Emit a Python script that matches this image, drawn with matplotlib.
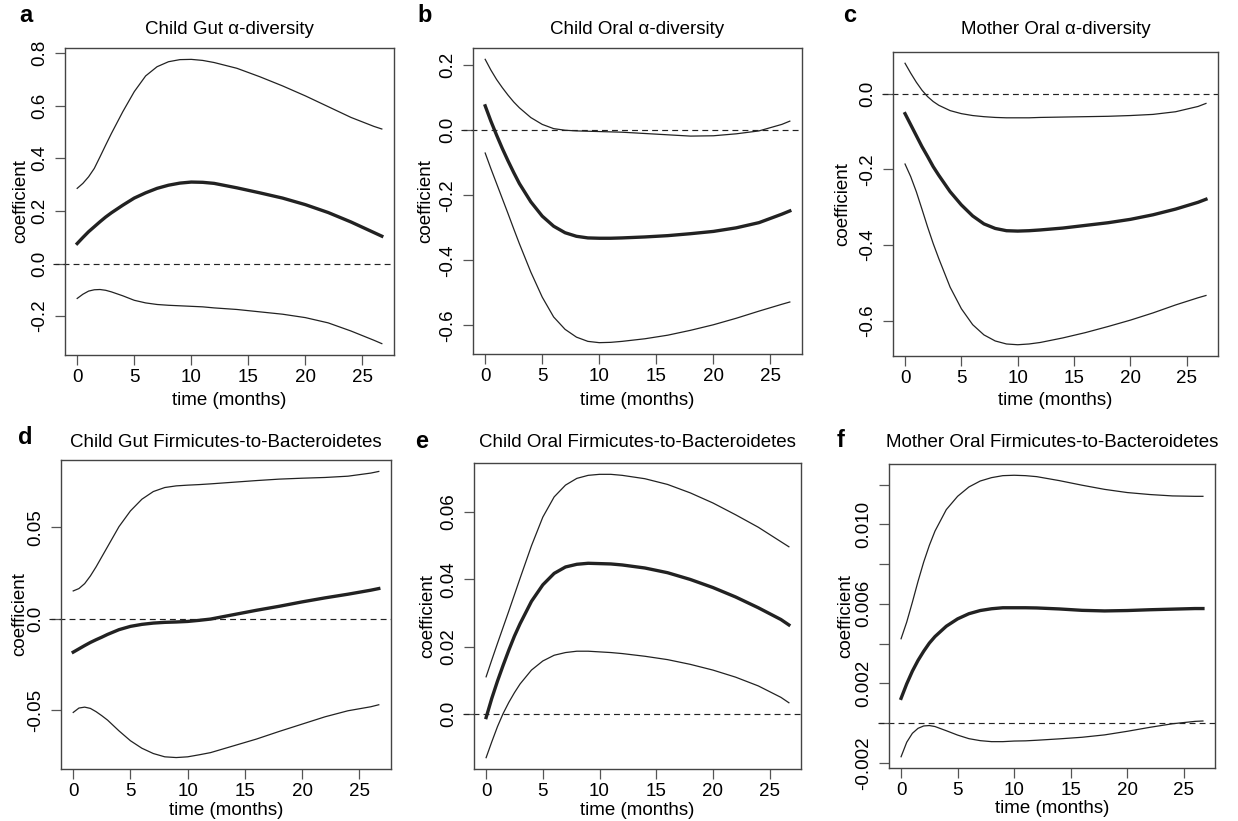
import matplotlib
matplotlib.use("Agg")
import matplotlib.pyplot as plt
import matplotlib.transforms as mtransforms

plt.rcParams['font.family'] = ['Liberation Sans', 'DejaVu Sans']

# ---------------- data ----------------
time_months = [0, 0.5, 1, 1.5, 2, 2.5, 3, 4, 5, 6, 7, 8, 9, 10, 11, 12,
               14, 16, 18, 20, 22, 24, 26, 26.7]

titles = ["Child Gut \u03b1-diversity", "Child Oral \u03b1-diversity",
          "Mother Oral \u03b1-diversity",
          "Child Gut Firmicutes-to-Bacteroidetes",
          "Child Oral Firmicutes-to-Bacteroidetes",
          "Mother Oral Firmicutes-to-Bacteroidetes"]
panel_letters = ["a", "b", "c", "d", "e", "f"]

# panel a
a_upper = [0.286, 0.305, 0.330, 0.362, 0.406, 0.451, 0.495, 0.578, 0.654, 0.714, 0.749, 0.768,
           0.776, 0.777, 0.773, 0.765, 0.743, 0.711, 0.676, 0.638, 0.597, 0.556, 0.522, 0.512]
a_coef = [0.076, 0.099, 0.121, 0.140, 0.159, 0.177, 0.193, 0.222, 0.249, 0.269, 0.286, 0.298,
          0.306, 0.310, 0.309, 0.305, 0.288, 0.269, 0.249, 0.224, 0.194, 0.158, 0.118, 0.104]
a_lower = [-0.133, -0.117, -0.105, -0.100, -0.099, -0.102, -0.108, -0.123, -0.140, -0.150, -0.156,
           -0.159, -0.161, -0.163, -0.165, -0.169, -0.175, -0.184, -0.193, -0.206, -0.226, -0.257,
           -0.292, -0.305]

# panel b
b_upper = [0.218, 0.185, 0.156, 0.131, 0.108, 0.087, 0.069, 0.039, 0.018, 0.005, 0.000, -0.002,
           -0.003, -0.004, -0.005, -0.006, -0.010, -0.014, -0.018, -0.017, -0.011, -0.002, 0.018, 0.028]
b_coef = [0.075, 0.028, -0.015, -0.056, -0.094, -0.130, -0.164, -0.220, -0.264, -0.295, -0.315,
          -0.326, -0.331, -0.332, -0.332, -0.331, -0.328, -0.324, -0.318, -0.311, -0.300, -0.284,
          -0.258, -0.248]
b_lower = [-0.070, -0.118, -0.164, -0.210, -0.256, -0.303, -0.349, -0.436, -0.513, -0.574, -0.612,
           -0.636, -0.649, -0.653, -0.652, -0.649, -0.641, -0.630, -0.615, -0.598, -0.578, -0.556,
           -0.535, -0.528]

# panel c
c_upper = [0.080, 0.054, 0.030, 0.009, -0.008, -0.021, -0.031, -0.045, -0.053, -0.058, -0.061,
           -0.063, -0.064, -0.064, -0.064, -0.063, -0.062, -0.061, -0.060, -0.058, -0.055, -0.048,
           -0.034, -0.026]
c_coef = [-0.053, -0.082, -0.111, -0.140, -0.166, -0.193, -0.216, -0.259, -0.294, -0.323, -0.344,
          -0.356, -0.362, -0.363, -0.362, -0.360, -0.355, -0.348, -0.341, -0.332, -0.320, -0.305,
          -0.287, -0.279]
c_lower = [-0.186, -0.219, -0.259, -0.305, -0.352, -0.396, -0.436, -0.511, -0.568, -0.610, -0.637,
           -0.653, -0.661, -0.663, -0.661, -0.657, -0.645, -0.631, -0.615, -0.598, -0.579, -0.558,
           -0.539, -0.533]

# panel d
d_upper = [0.0152, 0.0165, 0.0192, 0.0234, 0.0284, 0.0339, 0.0394, 0.0504, 0.0590, 0.0654, 0.0696,
           0.0718, 0.0727, 0.0731, 0.0734, 0.0738, 0.0747, 0.0756, 0.0764, 0.0769, 0.0773, 0.0780,
           0.0797, 0.0806]
d_coef = [-0.0183, -0.0165, -0.0147, -0.0130, -0.0115, -0.0101, -0.0086, -0.0060, -0.0042, -0.0031,
          -0.0024, -0.0020, -0.0018, -0.0015, -0.0009, -0.0002, 0.0022, 0.0046, 0.0068, 0.0092,
          0.0114, 0.0134, 0.0156, 0.0165]
d_lower = [-0.0513, -0.0489, -0.0484, -0.0491, -0.0509, -0.0531, -0.0555, -0.0614, -0.0668, -0.0709,
           -0.0738, -0.0756, -0.0760, -0.0756, -0.0745, -0.0733, -0.0696, -0.0659, -0.0617, -0.0577,
           -0.0537, -0.0504, -0.0482, -0.0471]

# panel e
e_upper = [0.0111, 0.0161, 0.0210, 0.0258, 0.0306, 0.0355, 0.0404, 0.0500, 0.0585, 0.0645, 0.0680,
           0.0700, 0.0709, 0.0712, 0.0712, 0.0709, 0.0699, 0.0682, 0.0657, 0.0627, 0.0592, 0.0555,
           0.0512, 0.0497]
e_coef = [-0.0010, 0.0047, 0.0098, 0.0145, 0.0190, 0.0232, 0.0269, 0.0335, 0.0384, 0.0418, 0.0437,
          0.0445, 0.0448, 0.0447, 0.0446, 0.0443, 0.0434, 0.0420, 0.0400, 0.0376, 0.0348, 0.0316,
          0.0281, 0.0265]
e_lower = [-0.0129, -0.0082, -0.0037, 0.0002, 0.0035, 0.0064, 0.0090, 0.0131, 0.0158, 0.0175,
           0.0183, 0.0187, 0.0187, 0.0185, 0.0183, 0.0180, 0.0172, 0.0162, 0.0148, 0.0131, 0.0110,
           0.0084, 0.0050, 0.0034]

# panel f
f_upper = [0.00424, 0.00508, 0.00608, 0.00713, 0.00810, 0.00894, 0.00966, 0.01074, 0.01141,
           0.01188, 0.01218, 0.01235, 0.01245, 0.01247, 0.01245, 0.01240, 0.01220, 0.01197,
           0.01176, 0.01160, 0.01150, 0.01143, 0.01141, 0.01141]
f_coef = [0.00124, 0.00197, 0.00261, 0.00315, 0.00361, 0.00402, 0.00435, 0.00487, 0.00524,
          0.00550, 0.00566, 0.00575, 0.00580, 0.00580, 0.00580, 0.00579, 0.00574, 0.00567,
          0.00564, 0.00566, 0.00570, 0.00573, 0.00576, 0.00576]
f_lower = [-0.00170, -0.00097, -0.00052, -0.00027, -0.00015, -0.00013, -0.00018, -0.00039,
           -0.00061, -0.00079, -0.00089, -0.00094, -0.00094, -0.00091, -0.00090, -0.00087,
           -0.00080, -0.00072, -0.00060, -0.00042, -0.00022, -0.00004, 0.00008, 0.00010]

x_ticks = [0, 5, 10, 15, 20, 25]
y_ticks = [
    [-0.2, 0.0, 0.2, 0.4, 0.6, 0.8],
    [-0.6, -0.4, -0.2, 0.0, 0.2],
    [-0.6, -0.4, -0.2, 0.0],
    [-0.05, 0.0, 0.05],
    [0.0, 0.02, 0.04, 0.06],
    [-0.002, 0.0, 0.002, 0.004, 0.006, 0.008, 0.010, 0.012],
]
y_ticklabels = [
    ["-0.2", "0.0", "0.2", "0.4", "0.6", "0.8"],
    ["-0.6", "-0.4", "-0.2", "0.0", "0.2"],
    ["-0.6", "-0.4", "-0.2", "0.0"],
    ["-0.05", "0.0", "0.05"],
    ["0.0", "0.02", "0.04", "0.06"],
    ["-0.002", "", "0.002", "", "0.006", "", "0.010", ""],
]

series = [(a_upper, a_coef, a_lower), (b_upper, b_coef, b_lower), (c_upper, c_coef, c_lower),
          (d_upper, d_coef, d_lower), (e_upper, e_coef, e_lower), (f_upper, f_coef, f_lower)]

# ---------------- layout (pixels: left, top, right, bottom) ----------------
W, H = 1238, 821
boxes = [(65, 48, 394, 355), (473, 48, 802, 354), (893, 52, 1218, 356),
         (61, 460, 391, 769), (474, 463, 801, 769), (889, 464, 1215, 768)]
letter_pos = [(26, 16), (425, 16), (850, 16), (25, 437), (422, 441), (841, 440)]
title_base = [33.5, 34, 34, 446.5, 447, 447]
xlabel_base = [405, 405, 405, 815, 815, 813]
ylabel_x = [21, 426, 843, 20, 428, 846]

fig = plt.figure(figsize=(W / 100, H / 100), dpi=100)
box_color = "#444444"
line_color = "#222222"
FS = 13.5

for i in range(6):
    l, t, r, b = boxes[i]
    ax = fig.add_axes([l / W, 1 - b / H, (r - l) / W, (b - t) / H])
    up, co, lo = series[i]
    ax.plot(time_months, up, color=line_color, lw=0.9)
    ax.plot(time_months, lo, color=line_color, lw=0.9)
    ax.plot(time_months, co, color=line_color, lw=2.4)
    trans = mtransforms.blended_transform_factory(ax.transAxes, ax.transData)
    ax.plot([-0.035, 1.0], [0, 0], transform=trans, color=line_color, lw=0.85,
            dashes=(5, 3.5), clip_on=False)

    allv = up + co + lo
    lo_v, hi_v = min(allv), max(allv)
    pad = 0.04 * (hi_v - lo_v)
    ax.set_ylim(lo_v - pad, hi_v + pad)
    xpad = 0.04 * (max(time_months) - min(time_months))
    ax.set_xlim(min(time_months) - xpad, max(time_months) + xpad)

    ax.set_xticks(x_ticks)
    ax.set_xticklabels([str(v) for v in x_ticks], fontsize=FS)
    ax.set_yticks(y_ticks[i])
    ax.set_yticklabels(y_ticklabels[i], fontsize=FS, rotation=90, va='center')
    ax.tick_params(axis='both', direction='out', length=7, width=0.9, color='#555555')
    ax.tick_params(axis='x', pad=3)
    ax.tick_params(axis='y', pad=5)
    for sp in ax.spines.values():
        sp.set_color(box_color)
        sp.set_linewidth(1.0)

    cx = (l + r) / 2
    fig.text(cx / W, 1 - title_base[i] / H, titles[i], ha='center', va='baseline', fontsize=FS)
    lx, ly = letter_pos[i]
    fig.text(lx / W, 1 - ly / H, panel_letters[i], ha='center', va='center', fontsize=17,
             fontweight='bold')
    fig.text(ylabel_x[i] / W, 1 - ((t + b) / 2) / H, "coefficient", rotation=90,
             ha='center', va='center', fontsize=FS)
    fig.text(cx / W, 1 - xlabel_base[i] / H, "time (months)", ha='center', va='baseline',
             fontsize=FS)

fig.savefig("out.png", dpi=100, facecolor='white')
